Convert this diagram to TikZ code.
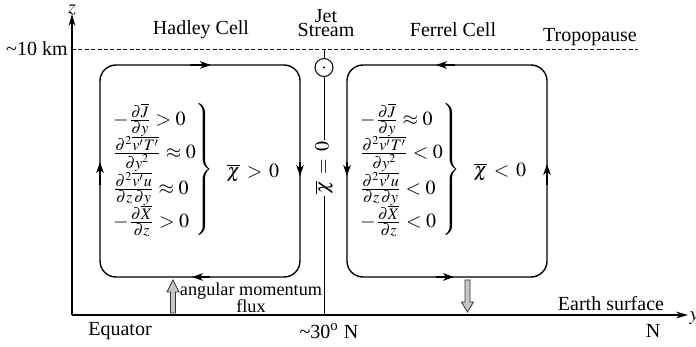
\documentclass[tikz,border=0pt]{standalone}
\usepackage{amsmath}
\usepackage{mathptmx}
\usepackage[no-math]{fontspec}
\setmainfont{Liberation Serif}
\usetikzlibrary{arrows.meta}
% fraction with mid-size numerator and denominator
\newcommand{\pfr}[2]{\frac{\mbox{\fontsize{8}{9}\selectfont$#1$}}{\mbox{\fontsize{8}{9}\selectfont$#2$}}}

\begin{document}
\begin{tikzpicture}[x=0.5pt, y=-0.5pt, font=\fontsize{10}{11}\selectfont,
  axis/.style={line width=0.75pt, -{Stealth[length=6pt,width=3.4pt]}},
  cell/.style={line width=0.7pt, rounded corners=8pt},
  flow/.style={line width=0.7pt, -{Stealth[length=5.5pt,width=3.8pt,inset=1.6pt]}},
  flux/.style={draw=black!80, fill=gray!45, line width=0.4pt},
  lbl/.style={inner sep=1pt},
  terms/.style={inner sep=0pt, anchor=east}]
  \useasboundingbox (0,0) rectangle (696,347);
  % axes
  \coordinate (o) at (72,315);
  \coordinate (ztip) at (72,14);
  \coordinate (ytip) at (688,315);
  \draw[axis] (o) -- (ztip);
  \draw[axis] (o) -- (ytip);
  \node[inner sep=0pt] (zlab) at (72,10) {$z$};
  \node[inner sep=0pt] (ylab) at (694,318) {$y$};
  % tropopause
  \coordinate (tp0) at (72,49);
  \coordinate (tp1) at (638,49);
  \draw[dashed, dash pattern=on 2pt off 1.2pt, line width=0.4pt] (tp0) -- (tp1);
  \node[lbl, anchor=east] (km) at (70,49) {\textasciitilde10 km};
  \node[lbl] (tropo) at (590,37) {Tropopause};
  \node[lbl] (hadley) at (201,30) {Hadley Cell};
  \node[lbl] (ferrel) at (453,30) {Ferrel Cell};
  \node[lbl, align=center, font=\fontsize{10}{7}\selectfont] (jetlab) at (326,23) {Jet\\Stream};
  % jet stream and chi = 0 line
  \node[draw, circle, line width=0.5pt, minimum size=9pt, inner sep=0pt] (jet) at (324,67.5) {};
  \fill (jet) circle (0.6pt);
  \coordinate (jtop) at (324,49);
  \coordinate (jbot) at (324,315);
  \draw[line width=0.4pt] (jtop) -- (jet);
  \draw[line width=0.4pt] (jet) -- (jbot);
  \node[fill=white, inner sep=1pt, rotate=90] (chi0) at (324,168) {$\overline{\chi}\,=\,0$};
  % Hadley cell loop
  \draw[cell] (100,65) rectangle (300,277);
  \draw[flow] (190,65) -- (211,65);
  \draw[flow] (210,277) -- (192,277);
  \draw[flow] (100,185) -- (100,162);
  \draw[flow] (300,162) -- (300,176);
  % Ferrel cell loop
  \draw[cell] (347,65) rectangle (547,277);
  \draw[flow] (455,65) -- (436,65);
  \draw[flow] (436,277) -- (454,277);
  \draw[flow] (347,162) -- (347,176);
  \draw[flow] (547,185) -- (547,164);
  % budget terms
  \node[terms] (hterms) at (214,170) {$\left.\renewcommand{\arraystretch}{1.1}\begin{array}{@{}l@{}}
    -\pfr{\partial\overline{J}}{\partial y} > 0\\[1.5pt]
    \pfr{\partial^2\overline{v'T'}}{\partial y^2}\approx 0\\[1.5pt]
    \pfr{\partial^2\overline{v'u}}{\partial z\,\partial y}\approx 0\\[1.5pt]
    -\pfr{\partial\overline{X}}{\partial z} > 0
  \end{array}\right\}$};
  \node[lbl] (hchi) at (253,173) {$\overline{\chi}\,>\,0$};
  \node[terms] (fterms) at (461,170) {$\left.\renewcommand{\arraystretch}{1.1}\begin{array}{@{}l@{}}
    -\pfr{\partial\overline{J}}{\partial y}\approx 0\\[1.5pt]
    \pfr{\partial^2\overline{v'T'}}{\partial y^2} < 0\\[1.5pt]
    \pfr{\partial^2\overline{v'u}}{\partial z\,\partial y} < 0\\[1.5pt]
    -\pfr{\partial\overline{X}}{\partial z} < 0
  \end{array}\right\}$};
  \node[lbl] (fchi) at (500,172) {$\overline{\chi}\,<\,0$};
  % angular momentum flux
  \draw[flux] (170.5,313) -- (170.5,292) -- (167,292) -- (173,280) -- (179,292)
    -- (175.5,292) -- (175.5,313) -- cycle;
  \draw[flux] (465,280) -- (465,302) -- (461.5,302) -- (467.5,312) -- (473.5,302)
    -- (470,302) -- (470,280) -- cycle;
  \node[lbl, align=center, font=\fontsize{9.1}{8.5}\selectfont] (amflux) at (251,298)
    {angular momentum\\flux};
  % surface labels
  \node[lbl] (surf) at (611,304) {Earth surface};
  \node[lbl] (eq) at (120,331) {Equator};
  \node[lbl] (lat30) at (329,331) {\textasciitilde30\textsuperscript{o} N};
  \node[lbl] (north) at (653,331) {N};
\end{tikzpicture}
\end{document}
